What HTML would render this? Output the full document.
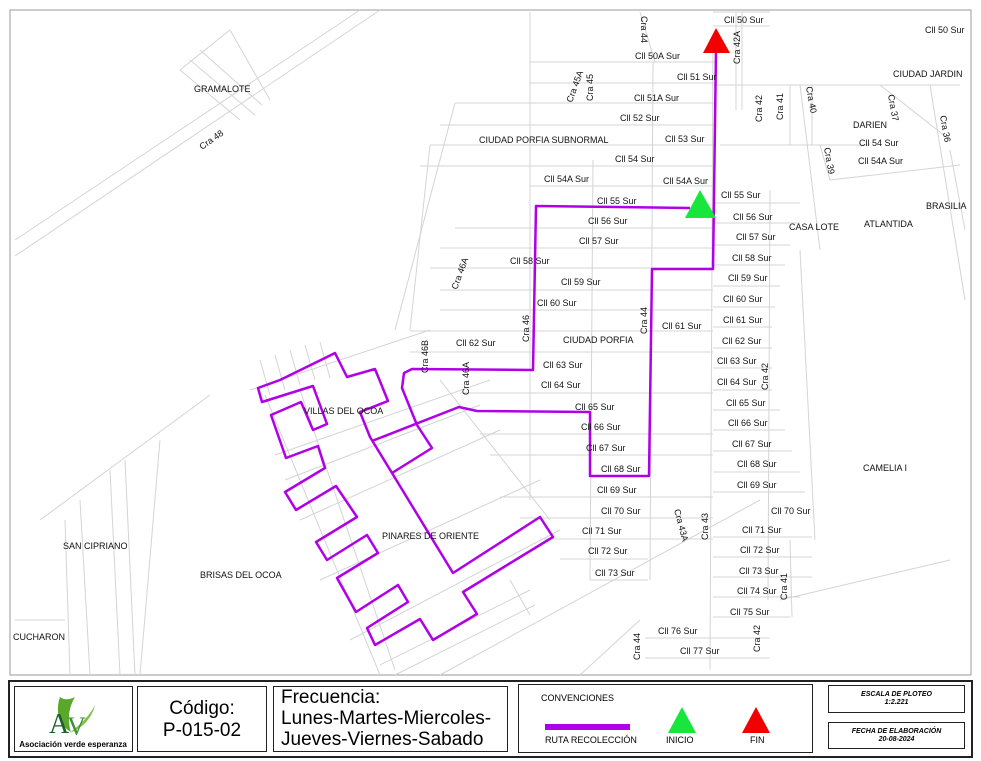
<!DOCTYPE html>
<html><head><meta charset="utf-8"><style>
body{margin:0;background:#fff;width:981px;height:761px;overflow:hidden;font-family:"Liberation Sans",sans-serif}
svg{position:absolute;left:0;top:0}
.b{position:absolute;border:1.5px solid #222;box-sizing:border-box;background:#fff}
</style></head><body>
<svg width="981" height="761" viewBox="0 0 981 761" font-family="Liberation Sans, sans-serif" font-size="9">
<rect x="10" y="10" width="961" height="665" fill="#fff" stroke="#999" stroke-width="1"/>
<g stroke="#d4d4d4" stroke-width="1" fill="none">
<line x1="15" y1="240" x2="360" y2="10"/><line x1="15" y1="256" x2="380" y2="10"/>
<line x1="180" y1="70" x2="230" y2="30"/><line x1="180" y1="70" x2="240" y2="120"/><line x1="230" y1="30" x2="270" y2="100"/>
<line x1="190" y1="60" x2="255" y2="115"/><line x1="200" y1="50" x2="262" y2="105"/>
<line x1="530" y1="62" x2="715" y2="62"/><line x1="530" y1="83" x2="715" y2="83"/><line x1="455" y1="103" x2="715" y2="103"/>
<line x1="440" y1="125" x2="715" y2="125"/><line x1="430" y1="145" x2="715" y2="145"/><line x1="420" y1="166" x2="715" y2="166"/>
<line x1="530" y1="186" x2="715" y2="186"/>
<line x1="455" y1="228" x2="713" y2="228"/><line x1="440" y1="248" x2="713" y2="248"/><line x1="430" y1="268" x2="713" y2="268"/>
<line x1="440" y1="290" x2="713" y2="290"/><line x1="440" y1="310" x2="713" y2="310"/><line x1="410" y1="331" x2="713" y2="331"/>
<line x1="410" y1="352" x2="713" y2="352"/><line x1="460" y1="393" x2="713" y2="393"/>
<line x1="480" y1="434" x2="713" y2="434"/><line x1="490" y1="455" x2="713" y2="455"/><line x1="500" y1="497" x2="713" y2="497"/>
<line x1="520" y1="518" x2="713" y2="518"/><line x1="540" y1="539" x2="713" y2="539"/><line x1="560" y1="559" x2="648" y2="559"/>
<line x1="590" y1="580" x2="648" y2="580"/><line x1="645" y1="638" x2="770" y2="638"/><line x1="645" y1="658" x2="770" y2="658"/>
<line x1="530" y1="12" x2="530" y2="500"/><line x1="593" y1="160" x2="590" y2="580"/><line x1="653" y1="62" x2="650" y2="580"/>
<line x1="713" y1="40" x2="710" y2="670"/><line x1="736" y1="12" x2="736" y2="110"/><line x1="742" y1="12" x2="742" y2="110"/>
<line x1="770" y1="190" x2="768" y2="600"/><line x1="790" y1="85" x2="790" y2="145"/><line x1="812" y1="85" x2="812" y2="145"/>
<line x1="640" y1="12" x2="655" y2="62"/><line x1="455" y1="103" x2="395" y2="330"/><line x1="430" y1="145" x2="410" y2="330"/>
<line x1="713" y1="12" x2="770" y2="12"/><line x1="713" y1="26" x2="770" y2="26"/><line x1="713" y1="85" x2="960" y2="85"/>
<line x1="720" y1="145" x2="870" y2="145"/><line x1="820" y1="145" x2="830" y2="180"/><line x1="830" y1="180" x2="960" y2="165"/>
<line x1="713" y1="203" x2="800" y2="203"/><line x1="713" y1="223" x2="800" y2="223"/><line x1="713" y1="245" x2="790" y2="245"/>
<line x1="713" y1="265" x2="785" y2="265"/><line x1="713" y1="286" x2="780" y2="286"/><line x1="713" y1="307" x2="775" y2="307"/>
<line x1="713" y1="327" x2="772" y2="327"/><line x1="713" y1="348" x2="772" y2="348"/><line x1="713" y1="368" x2="772" y2="368"/>
<line x1="713" y1="390" x2="772" y2="390"/><line x1="713" y1="410" x2="780" y2="410"/><line x1="713" y1="430" x2="785" y2="430"/>
<line x1="713" y1="451" x2="792" y2="451"/><line x1="713" y1="472" x2="800" y2="472"/><line x1="713" y1="492" x2="805" y2="492"/>
<line x1="713" y1="537" x2="812" y2="537"/><line x1="713" y1="557" x2="812" y2="557"/><line x1="713" y1="577" x2="812" y2="577"/>
<line x1="713" y1="597" x2="800" y2="597"/><line x1="713" y1="617" x2="790" y2="617"/><line x1="790" y1="540" x2="792" y2="617"/>
<line x1="800" y1="85" x2="820" y2="250"/><line x1="930" y1="85" x2="965" y2="300"/><line x1="880" y1="85" x2="950" y2="140"/>
<line x1="950" y1="150" x2="965" y2="230"/><line x1="780" y1="600" x2="950" y2="560"/><line x1="800" y1="250" x2="815" y2="540"/>
<line x1="250" y1="390" x2="430" y2="330"/><line x1="260" y1="360" x2="270" y2="395"/><line x1="275" y1="355" x2="285" y2="390"/>
<line x1="290" y1="350" x2="300" y2="385"/><line x1="305" y1="345" x2="315" y2="380"/><line x1="320" y1="342" x2="330" y2="378"/>
<line x1="265" y1="395" x2="380" y2="675"/><line x1="300" y1="390" x2="395" y2="670"/>
<line x1="275" y1="455" x2="490" y2="380"/><line x1="285" y1="480" x2="480" y2="405"/><line x1="300" y1="520" x2="500" y2="430"/>
<line x1="320" y1="580" x2="540" y2="480"/><line x1="350" y1="640" x2="560" y2="530"/><line x1="380" y1="665" x2="530" y2="590"/>
<line x1="395" y1="675" x2="535" y2="605"/><line x1="440" y1="380" x2="550" y2="520"/><line x1="510" y1="580" x2="530" y2="615"/>
<line x1="210" y1="395" x2="40" y2="520"/><line x1="160" y1="440" x2="140" y2="675"/><line x1="110" y1="470" x2="120" y2="675"/>
<line x1="80" y1="500" x2="90" y2="675"/><line x1="65" y1="520" x2="70" y2="675"/><line x1="125" y1="460" x2="135" y2="675"/>
<line x1="15" y1="620" x2="65" y2="620"/><line x1="440" y1="675" x2="760" y2="500"/><line x1="580" y1="675" x2="640" y2="620"/>
</g>
<g stroke="#b000e8" stroke-width="2.5" fill="none" stroke-linejoin="round">
<polyline points="716,50 713,269 652,269 649,476 590,476 590,412 477,411 459,407 372,441"/>
<polyline points="690,208 536,206 533,370 412,369 404,373 402,388 417,425 432,448 392,473"/>
<polygon points="258,388 262,402 313,386 327,424 313,430 301,402 271,415 286,458 318,446 325,468 285,492 296,510 336,486 357,517 316,542 327,560 367,535 378,553 337,578 356,612 398,585 408,602 367,628 375,645 420,619 433,640 477,614 463,592 553,537 540,517 453,573 392,473 370,437 360,412 388,401 375,369 347,377 335,353 325,358 280,380"/>
</g>
<polygon points="716,28 703,53 730,53" fill="#f20000"/>
<polygon points="700,190 685,218 716,218" fill="#19e63c"/>
<g fill="#111">
<text x="724" y="23">Cll 50 Sur</text><text x="925" y="33">Cll 50 Sur</text><text x="635" y="59">Cll 50A Sur</text>
<text x="677" y="80">Cll 51 Sur</text><text x="634" y="101">Cll 51A Sur</text><text x="620" y="121">Cll 52 Sur</text>
<text x="665" y="142">Cll 53 Sur</text><text x="615" y="162">Cll 54 Sur</text><text x="544" y="182">Cll 54A Sur</text>
<text x="663" y="184">Cll 54A Sur</text><text x="597" y="204">Cll 55 Sur</text><text x="721" y="198">Cll 55 Sur</text>
<text x="588" y="224">Cll 56 Sur</text><text x="733" y="220">Cll 56 Sur</text><text x="579" y="244">Cll 57 Sur</text>
<text x="736" y="240">Cll 57 Sur</text><text x="510" y="264">Cll 58 Sur</text><text x="732" y="261">Cll 58 Sur</text>
<text x="561" y="285">Cll 59 Sur</text><text x="728" y="281">Cll 59 Sur</text><text x="537" y="306">Cll 60 Sur</text>
<text x="723" y="302">Cll 60 Sur</text><text x="662" y="329">Cll 61 Sur</text><text x="723" y="323">Cll 61 Sur</text>
<text x="456" y="346">Cll 62 Sur</text><text x="722" y="344">Cll 62 Sur</text><text x="543" y="368">Cll 63 Sur</text>
<text x="717" y="364">Cll 63 Sur</text><text x="541" y="388">Cll 64 Sur</text><text x="717" y="385">Cll 64 Sur</text>
<text x="575" y="410">Cll 65 Sur</text><text x="726" y="406">Cll 65 Sur</text><text x="581" y="430">Cll 66 Sur</text>
<text x="728" y="426">Cll 66 Sur</text><text x="586" y="451">Cll 67 Sur</text><text x="732" y="447">Cll 67 Sur</text>
<text x="601" y="472">Cll 68 Sur</text><text x="737" y="467">Cll 68 Sur</text><text x="597" y="493">Cll 69 Sur</text>
<text x="737" y="488">Cll 69 Sur</text><text x="601" y="514">Cll 70 Sur</text><text x="771" y="514">Cll 70 Sur</text>
<text x="582" y="534">Cll 71 Sur</text><text x="742" y="533">Cll 71 Sur</text><text x="588" y="554">Cll 72 Sur</text>
<text x="740" y="553">Cll 72 Sur</text><text x="595" y="576">Cll 73 Sur</text><text x="739" y="574">Cll 73 Sur</text>
<text x="737" y="594">Cll 74 Sur</text><text x="730" y="615">Cll 75 Sur</text><text x="658" y="634">Cll 76 Sur</text>
<text x="680" y="654">Cll 77 Sur</text><text x="859" y="146">Cll 54 Sur</text><text x="858" y="164">Cll 54A Sur</text>
<text x="194" y="92">GRAMALOTE</text><text x="479" y="143">CIUDAD PORFIA SUBNORMAL</text>
<text x="893" y="77">CIUDAD JARDIN</text><text x="853" y="128">DARIEN</text><text x="926" y="209">BRASILIA</text>
<text x="789" y="230">CASA LOTE</text><text x="864" y="227">ATLANTIDA</text><text x="563" y="343">CIUDAD PORFIA</text>
<text x="304" y="414">VILLAS DEL OCOA</text><text x="382" y="539">PINARES DE ORIENTE</text><text x="63" y="549">SAN CIPRIANO</text>
<text x="200" y="578">BRISAS DEL OCOA</text><text x="13" y="640">CUCHARON</text><text x="863" y="471">CAMELIA I</text>
<text transform="translate(641,16) rotate(90)">Cra 44</text><text transform="translate(740,64) rotate(-90)">Cra 42A</text>
<text transform="translate(572,103) rotate(-70)">Cra 45A</text><text transform="translate(593,101) rotate(-90)">Cra 45</text>
<text transform="translate(762,122) rotate(-90)">Cra 42</text><text transform="translate(783,120) rotate(-90)">Cra 41</text>
<text transform="translate(806,87) rotate(80)">Cra 40</text><text transform="translate(888,95) rotate(80)">Cra 37</text>
<text transform="translate(940,116) rotate(80)">Cra 36</text><text transform="translate(824,148) rotate(80)">Cra 39</text>
<text transform="translate(202,150) rotate(-35)">Cra 48</text><text transform="translate(457,290) rotate(-70)">Cra 46A</text>
<text transform="translate(529,342) rotate(-90)">Cra 46</text><text transform="translate(647,334) rotate(-90)">Cra 44</text>
<text transform="translate(428,373) rotate(-90)">Cra 46B</text><text transform="translate(469,395) rotate(-90)">Cra 46A</text>
<text transform="translate(768,390) rotate(-90)">Cra 42</text><text transform="translate(674,510) rotate(75)">Cra 43A</text>
<text transform="translate(708,540) rotate(-90)">Cra 43</text><text transform="translate(787,600) rotate(-90)">Cra 41</text>
<text transform="translate(760,652) rotate(-90)">Cra 42</text><text transform="translate(640,660) rotate(-90)">Cra 44</text>
</g>
</svg>
<div class="b" style="left:8px;top:680px;width:965px;height:78px;border-width:2px"></div>
<div class="b" style="left:14px;top:686px;width:119px;height:66px;border-width:1px">
<svg width="117" height="64" style="position:absolute;left:0;top:0"><path d="M45 10 C40 25 44 38 56 45 C52 32 54 20 60 10 C52 14 48 12 45 10Z" fill="#5aa82a"/><path d="M55 46 C70 40 78 28 80 18 C74 30 66 36 55 46Z" fill="#7cc243"/><text x="34" y="46" font-size="28" font-family="Liberation Serif, serif" fill="#1f5e2a">A</text><text x="52" y="48" font-size="26" font-family="Liberation Serif, serif" fill="#3f8f3a">V</text><text x="58" y="60" font-size="8" font-weight="bold" text-anchor="middle" font-family="Liberation Sans, sans-serif">Asociación verde esperanza</text></svg></div>
<div class="b" style="left:137px;top:686px;width:130px;height:66px;border-width:1px;text-align:center;font-size:19px;line-height:22px;padding-top:11px">Código:<br>P-015-02</div>
<div class="b" style="left:273px;top:686px;width:235px;height:66px;border-width:1px;font-size:19px;line-height:21px;padding:0 0 0 7px">Frecuencia:<br>Lunes-Martes-Miercoles-<br>Jueves-Viernes-Sabado</div>
<div class="b" style="left:518px;top:684px;width:295px;height:69px;border-width:1px">
<div style="position:absolute;left:22px;top:8px;font-size:9px">CONVENCIONES</div>
<div style="position:absolute;left:26px;top:39px;width:85px;height:6px;background:#b000e8"></div>
<div style="position:absolute;left:26px;top:50px;font-size:9px">RUTA RECOLECCIÓN</div>
<svg style="position:absolute;left:148px;top:22px" width="30" height="26"><polygon points="15,0 1,26 29,26" fill="#19e63c"/></svg>
<div style="position:absolute;left:147px;top:50px;font-size:9px">INICIO</div>
<svg style="position:absolute;left:222px;top:22px" width="30" height="26"><polygon points="15,0 1,26 29,26" fill="#f20000"/></svg>
<div style="position:absolute;left:231px;top:50px;font-size:9px">FIN</div></div>
<div class="b" style="left:828px;top:685px;width:137px;height:28px;border-width:1px;text-align:center;font-size:7px;font-weight:bold;font-style:italic;padding-top:5px;line-height:8px">ESCALA DE PLOTEO<br>1:2.221</div>
<div class="b" style="left:828px;top:722px;width:137px;height:27px;border-width:1px;text-align:center;font-size:7px;font-weight:bold;font-style:italic;padding-top:5px;line-height:8px">FECHA DE ELABORACIÓN<br>20-08-2024</div>
</body></html>
